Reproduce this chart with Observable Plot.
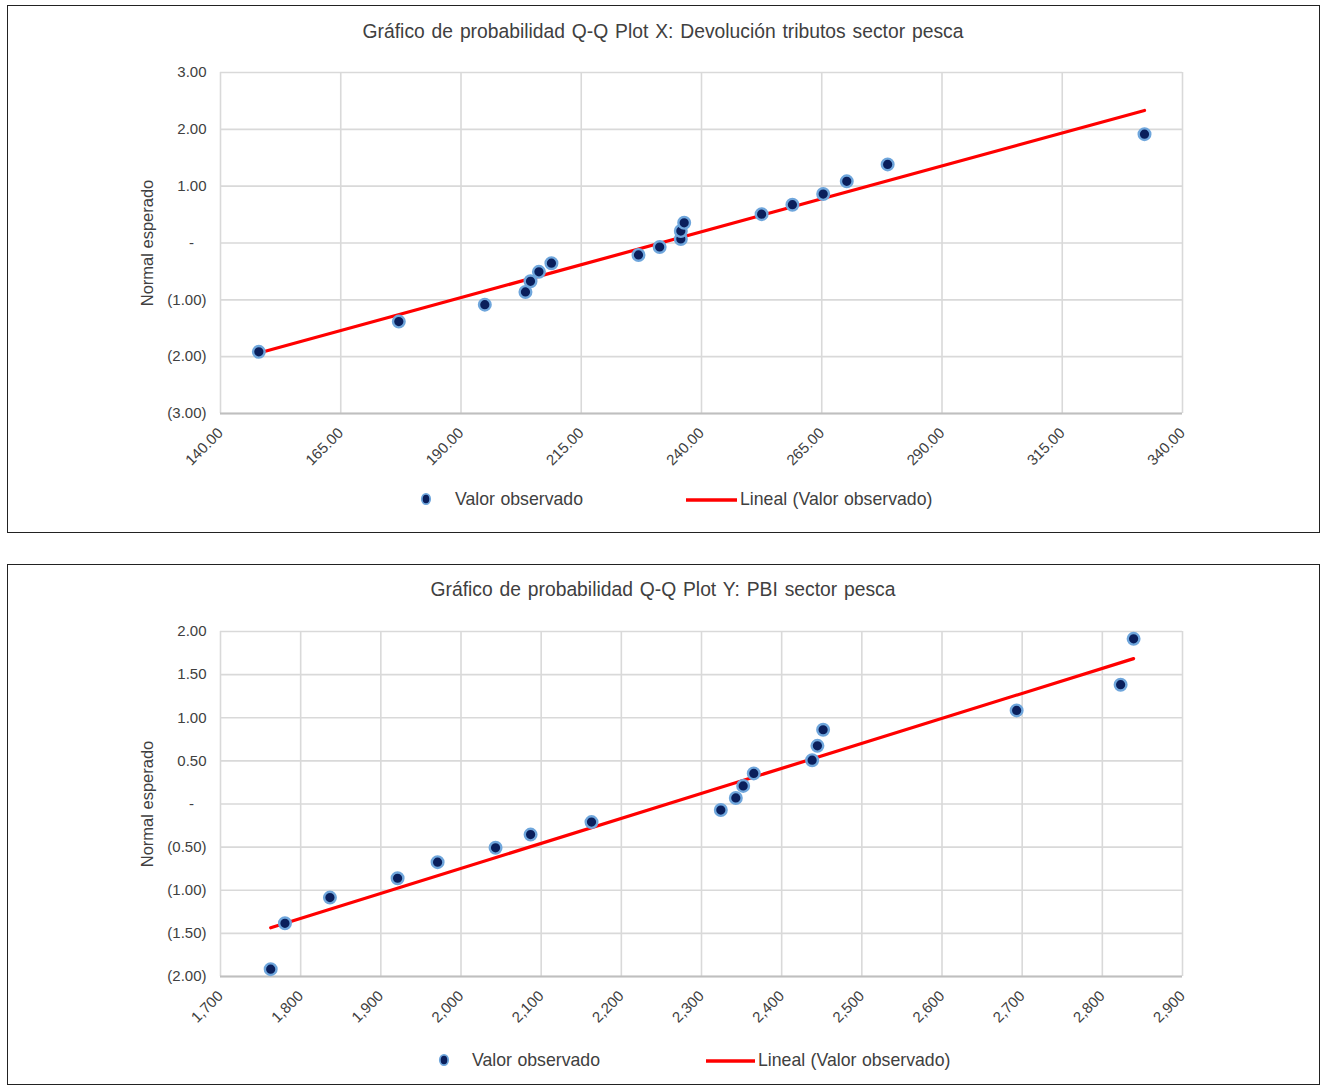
<!DOCTYPE html>
<html><head><meta charset="utf-8">
<script src="https://cdn.jsdelivr.net/npm/d3@7"></script>
<script src="https://cdn.jsdelivr.net/npm/@observablehq/plot@0.6"></script>
<style>
html,body{margin:0;padding:0;background:#fff}
body{font-family:"Liberation Sans",Arial,sans-serif;overflow:hidden;width:1322px;height:1086px;position:relative}
.panel{position:absolute;left:7px;width:1313px;border:1px solid #222;box-sizing:border-box}
.title{position:absolute;left:0;width:1326px;text-align:center;font-size:19.3px;word-spacing:1.5px;color:#404040;line-height:22px}
.plotwrap{position:absolute;left:0}
.leg{position:absolute;font-size:17.7px;word-spacing:0.5px;color:#404040;line-height:20px;white-space:nowrap}
.legsym{position:absolute}
</style>
</head><body>
<script>
// ---- Data ----
const titleX = "Gráfico de probabilidad Q-Q Plot X: Devolución tributos sector pesca";
const titleY = "Gráfico de probabilidad Q-Q Plot Y: PBI sector pesca";
const yLabel = "Normal esperado";
const legendPoints = "Valor observado";
const legendLine = "Lineal (Valor observado)";

// Plot X: Devolución tributos sector pesca
const devolucion = [147.97, 177.07, 194.95, 203.4, 204.45, 206.2, 208.8, 226.9, 231.3, 235.7, 235.7, 236.4, 252.5, 258.9, 265.3, 270.2, 278.7, 332.1];
const normalX    = [-1.915, -1.383, -1.085, -0.861, -0.674, -0.508, -0.355, -0.210, -0.070, 0.070, 0.210, 0.355, 0.508, 0.674, 0.861, 1.085, 1.383, 1.915];
const ticksXx = [140, 165, 190, 215, 240, 265, 290, 315, 340];
const ticksXy = [-3, -2, -1, 0, 1, 2, 3];

// Plot Y: PBI sector pesca
const pbi     = [1762.6, 1780.4, 1836.5, 1920.9, 1970.8, 2043.1, 2086.8, 2162.8, 2324.1, 2342.8, 2352.0, 2365.2, 2438.0, 2444.6, 2451.7, 2693.1, 2822.8, 2839.0];
const normalY = [-1.915, -1.383, -1.085, -0.861, -0.674, -0.508, -0.355, -0.210, -0.070, 0.070, 0.210, 0.355, 0.508, 0.674, 0.861, 1.085, 1.383, 1.915];
const ticksYx = [1700, 1800, 1900, 2000, 2100, 2200, 2300, 2400, 2500, 2600, 2700, 2800, 2900];
const ticksYy = [-2, -1.5, -1, -0.5, 0, 0.5, 1, 1.5, 2];

// ---- Helpers ----
const f2 = d3.format(".2f");
const acct = v => v === 0 ? "-\u00a0\u00a0\u00a0" : v < 0 ? `(${f2(-v)})` : f2(v);
const FONT = '"Liberation Sans", Arial, sans-serif';

function panel(cfg) {
  const p = document.createElement("div");
  p.className = "panel";
  p.style.top = cfg.boxTop + "px";
  p.style.height = cfg.boxHeight + "px";
  document.body.appendChild(p);

  const t = document.createElement("div");
  t.className = "title";
  t.style.top = cfg.titleTop + "px";
  t.textContent = cfg.title;
  document.body.appendChild(t);

  const data = cfg.x.map((x, i) => ({x, y: cfg.y[i]}));
  const svgTop = cfg.plotTop - 22;
  const chart = Plot.plot({
    width: 1322,
    height: cfg.plotBottom - svgTop + 70,
    marginLeft: 220, marginRight: 140, marginTop: 22, marginBottom: 70,
    style: {background: "transparent", fontFamily: FONT, fontSize: "15px", color: "#404040", overflow: "visible"},
    x: {domain: cfg.xDomain, label: null},
    y: {domain: cfg.yDomain, label: null},
    marks: [
      Plot.gridX(cfg.xTicks, {stroke: "#d9d9d9", strokeOpacity: 1, strokeWidth: 1.6}),
      Plot.gridY(cfg.yTicks, {stroke: "#d9d9d9", strokeOpacity: 1, strokeWidth: 1.6}),
      Plot.ruleY([cfg.yDomain[0]], {stroke: "#bfbfbf", strokeWidth: 1.8}),
      Plot.axisX({ticks: cfg.xTicks, tickFormat: cfg.xFormat, tickRotate: -45, tickSize: 0, tickPadding: 17, label: null}),
      Plot.axisY({ticks: cfg.yTicks, tickFormat: acct, tickSize: 0, tickPadding: 14, label: null}),
      Plot.text([yLabel], {frameAnchor: "left", rotate: -90, dx: -73, fontSize: 16.5, textAnchor: "middle", lineAnchor: "middle", fill: "#404040"}),
      Plot.linearRegressionY(data, {x: "x", y: "y", stroke: "#ff0000", strokeWidth: 3.2, ci: 0}),
      Plot.dot(data, {x: "x", y: "y", r: 5.8, fill: "#0a1f5c", stroke: "#6fa6dc", strokeWidth: 2.4})
    ]
  });
  const w = document.createElement("div");
  w.className = "plotwrap";
  w.style.top = svgTop + "px";
  w.appendChild(chart);
  document.body.appendChild(w);

  // Legend
  const ly = cfg.legendY;
  const d = document.createElementNS("http://www.w3.org/2000/svg", "svg");
  d.setAttribute("width", 16); d.setAttribute("height", 16);
  d.setAttribute("class", "legsym");
  d.style.left = (cfg.legDot - 8) + "px"; d.style.top = (ly - 8) + "px";
  d.innerHTML = '<ellipse cx="8" cy="8" rx="4.2" ry="5.2" fill="#0a1f5c" stroke="#6fa6dc" stroke-width="1.8"/>';
  document.body.appendChild(d);
  const t1 = document.createElement("div");
  t1.className = "leg"; t1.style.left = cfg.legText1 + "px"; t1.style.top = (ly - 10) + "px";
  t1.textContent = legendPoints; document.body.appendChild(t1);
  const l = document.createElementNS("http://www.w3.org/2000/svg", "svg");
  l.setAttribute("width", cfg.legLine[1] - cfg.legLine[0]); l.setAttribute("height", 6);
  l.setAttribute("class", "legsym");
  l.style.left = cfg.legLine[0] + "px"; l.style.top = (ly - 2) + "px";
  l.innerHTML = `<line x1="0" x2="${cfg.legLine[1] - cfg.legLine[0]}" y1="3" y2="3" stroke="#ff0000" stroke-width="3.5"/>`;
  document.body.appendChild(l);
  const t2 = document.createElement("div");
  t2.className = "leg"; t2.style.left = cfg.legText2 + "px"; t2.style.top = (ly - 10) + "px";
  t2.textContent = legendLine; document.body.appendChild(t2);
}

panel({
  boxTop: 5, boxHeight: 528, titleTop: 21, title: titleX,
  x: devolucion, y: normalX, xDomain: [140, 340], yDomain: [-3, 3],
  xTicks: ticksXx, yTicks: ticksXy, xFormat: f2,
  plotTop: 72, plotBottom: 413,
  legendY: 499, legDot: 426, legText1: 455, legLine: [686, 737], legText2: 740
});
panel({
  boxTop: 564, boxHeight: 521, titleTop: 579, title: titleY,
  x: pbi, y: normalY, xDomain: [1700, 2900], yDomain: [-2, 2],
  xTicks: ticksYx, yTicks: ticksYy, xFormat: d3.format(",d"),
  plotTop: 631, plotBottom: 976,
  legendY: 1060, legDot: 444, legText1: 472, legLine: [706, 755], legText2: 758
});
</script>
</body></html>
